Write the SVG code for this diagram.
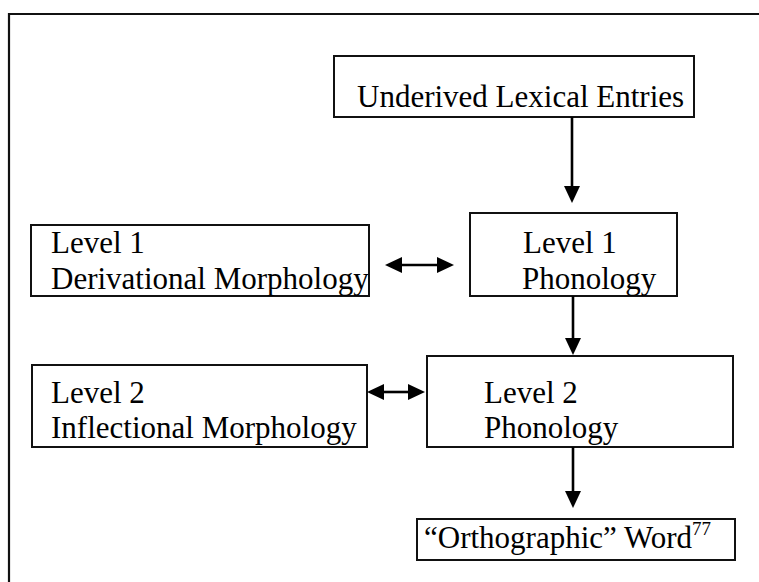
<svg xmlns="http://www.w3.org/2000/svg" width="759" height="582" viewBox="0 0 759 582">
<defs>
<style>
.box{fill:#fff;stroke:#111;stroke-width:2}
.frame{fill:none;stroke:#111;stroke-width:2.2}
.t{font-family:"Liberation Serif","Times New Roman",serif;font-size:31px;fill:#000}
.sup{font-family:"Liberation Serif","Times New Roman",serif;font-size:19px;fill:#000}
.c{stroke:#000;stroke-width:2.6;fill:none}
</style>
<marker id="ah" viewBox="0 0 17 16" markerWidth="17" markerHeight="16" refX="1" refY="8" orient="auto-start-reverse" markerUnits="userSpaceOnUse">
<path d="M0,0 L17,8 L0,16 z" fill="#000"/>
</marker>
</defs>
<rect width="759" height="582" fill="#fff"/>
<path class="frame" d="M9,600 V14 H770"/>
<g id="underived">
<rect class="box" x="334" y="56" width="360" height="61"/>
<text class="t" x="357" y="107">Underived Lexical Entries</text>
</g>
<g id="level1-morph">
<rect class="box" x="31" y="225" width="338" height="71"/>
<text class="t" x="51" y="253">Level 1</text>
<text class="t" x="51" y="289">Derivational Morphology</text>
</g>
<g id="level1-phon">
<rect class="box" x="470" y="213" width="207" height="83"/>
<text class="t" x="523" y="253">Level 1</text>
<text class="t" x="522" y="289">Phonology</text>
</g>
<g id="level2-morph">
<rect class="box" x="32" y="365" width="335" height="82"/>
<text class="t" x="51" y="403">Level 2</text>
<text class="t" x="51" y="438">Inflectional Morphology</text>
</g>
<g id="level2-phon">
<rect class="box" x="427" y="356" width="306" height="91"/>
<text class="t" x="484" y="403">Level 2</text>
<text class="t" x="484" y="438">Phonology</text>
</g>
<g id="ortho">
<rect class="box" x="417" y="519" width="318" height="41"/>
<text class="t" x="424" y="548">“Orthographic” Word<tspan class="sup" dy="-13">77</tspan></text>
</g>
<g id="connectors">
<line class="c" x1="572" y1="117" x2="572" y2="187" marker-end="url(#ah)"/>
<line class="c" x1="573" y1="296" x2="573" y2="339" marker-end="url(#ah)"/>
<line class="c" x1="573" y1="447" x2="573" y2="492" marker-end="url(#ah)"/>
<line class="c" x1="401" y1="265" x2="438" y2="265" marker-start="url(#ah)" marker-end="url(#ah)"/>
<line class="c" x1="383" y1="392" x2="409" y2="392" marker-start="url(#ah)" marker-end="url(#ah)"/>
</g>
</svg>
